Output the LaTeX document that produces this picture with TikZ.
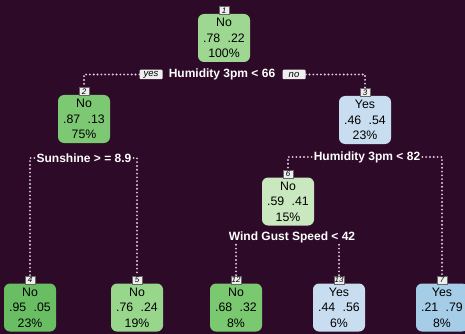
\documentclass[tikz,border=0pt]{standalone}
\usepackage{fontspec}
\setmainfont{Liberation Sans}
\definecolor{bg}{RGB}{45,10,40}
\definecolor{dotcol}{RGB}{222,205,225}
\definecolor{labgray}{RGB}{238,238,238}
\definecolor{cA}{RGB}{158,215,146}
\definecolor{cB}{RGB}{125,200,115}
\definecolor{cC}{RGB}{105,190,100}
\definecolor{cD}{RGB}{152,214,140}
\definecolor{cE}{RGB}{122,200,112}
\definecolor{cF}{RGB}{202,232,192}
\definecolor{cG}{RGB}{200,222,240}
\definecolor{cH}{RGB}{165,205,232}
\begin{document}
\begin{tikzpicture}[x=1pt,y=-1pt,
 box/.style={rounded corners=6pt, minimum width=52pt, minimum height=48pt, align=center,
   font=\fontsize{12.3}{15.5}\selectfont, inner sep=0pt, text=black},
 numlab/.style={fill=labgray, draw=black!60, line width=0.3pt, font=\fontsize{8}{8}\selectfont\itshape,
   inner sep=0.6pt, minimum width=9.5pt, minimum height=7.5pt, text=black},
 split/.style={text=white, font=\fontsize{12}{12}\selectfont\bfseries, inner sep=2pt},
 dotline/.style={draw=dotcol, line width=2.1pt, dash pattern=on 0pt off 3.8pt, line cap=round},
 yn/.style={fill=labgray, font=\fontsize{9.5}{9.5}\selectfont\itshape, inner sep=1pt,
   minimum width=23pt, minimum height=9.5pt, rounded corners=1pt, text=black}]
\fill[bg] (0,0) rectangle (465,334);
\useasboundingbox (0,0) rectangle (465,334);
% tree nodes
\node[box, fill=cA] (n1) at (224,38) {No\\.78\hspace{0.6em}.22\\100\%};
\node[box, fill=cB] (n2) at (84,119) {No\\.87\hspace{0.6em}.13\\75\%};
\node[box, fill=cG] (n3) at (365,120) {Yes\\.46\hspace{0.6em}.54\\23\%};
\node[box, fill=cF] (n6) at (288,201.5) {No\\.59\hspace{0.6em}.41\\15\%};
\node[box, fill=cC] (n4) at (30,307.5) {No\\.95\hspace{0.6em}.05\\23\%};
\node[box, fill=cD] (n5) at (137,307.5) {No\\.76\hspace{0.6em}.24\\19\%};
\node[box, fill=cE] (n12) at (236,307.5) {No\\.68\hspace{0.6em}.32\\8\%};
\node[box, fill=cG] (n13) at (339,307.5) {Yes\\.44\hspace{0.6em}.56\\6\%};
\node[box, fill=cH] (n7) at (442,307.5) {Yes\\.21\hspace{0.6em}.79\\8\%};
% number labels
\foreach \n in {1,2,3,6,4,5,12,13,7}{
  \node[numlab, anchor=south] (l\n) at ([yshift=-0.5pt]n\n.north) {\n};
}
% split labels
\node[split] (s1) at (222,74.5) {Humidity 3pm < 66};
\node[yn] (yes) at (151,74.5) {yes};
\node[yn] (no) at (294,74.5) {no};
\node[split] (s2) at (84,158) {Sunshine > = 8.9};
\node[split] (s3) at (367,157) {Humidity 3pm < 82};
\node[split] (s6) at (292,237) {Wind Gust Speed < 42};
% connectors
\draw[dotline] (yes.west) -| (l2.north);
\draw[dotline] (no.east) -| (l3.north);
\draw[dotline] (s2.west) -| (l4.north);
\draw[dotline] (s2.east) -| (l5.north);
\draw[dotline] (s3.west) -| (l6.north);
\draw[dotline] (s3.east) -| (l7.north);
\draw[dotline] (l12.north |- s6.south) -- (l12.north);
\draw[dotline] (l13.north |- s6.south) -- (l13.north);
\end{tikzpicture}
\end{document}
